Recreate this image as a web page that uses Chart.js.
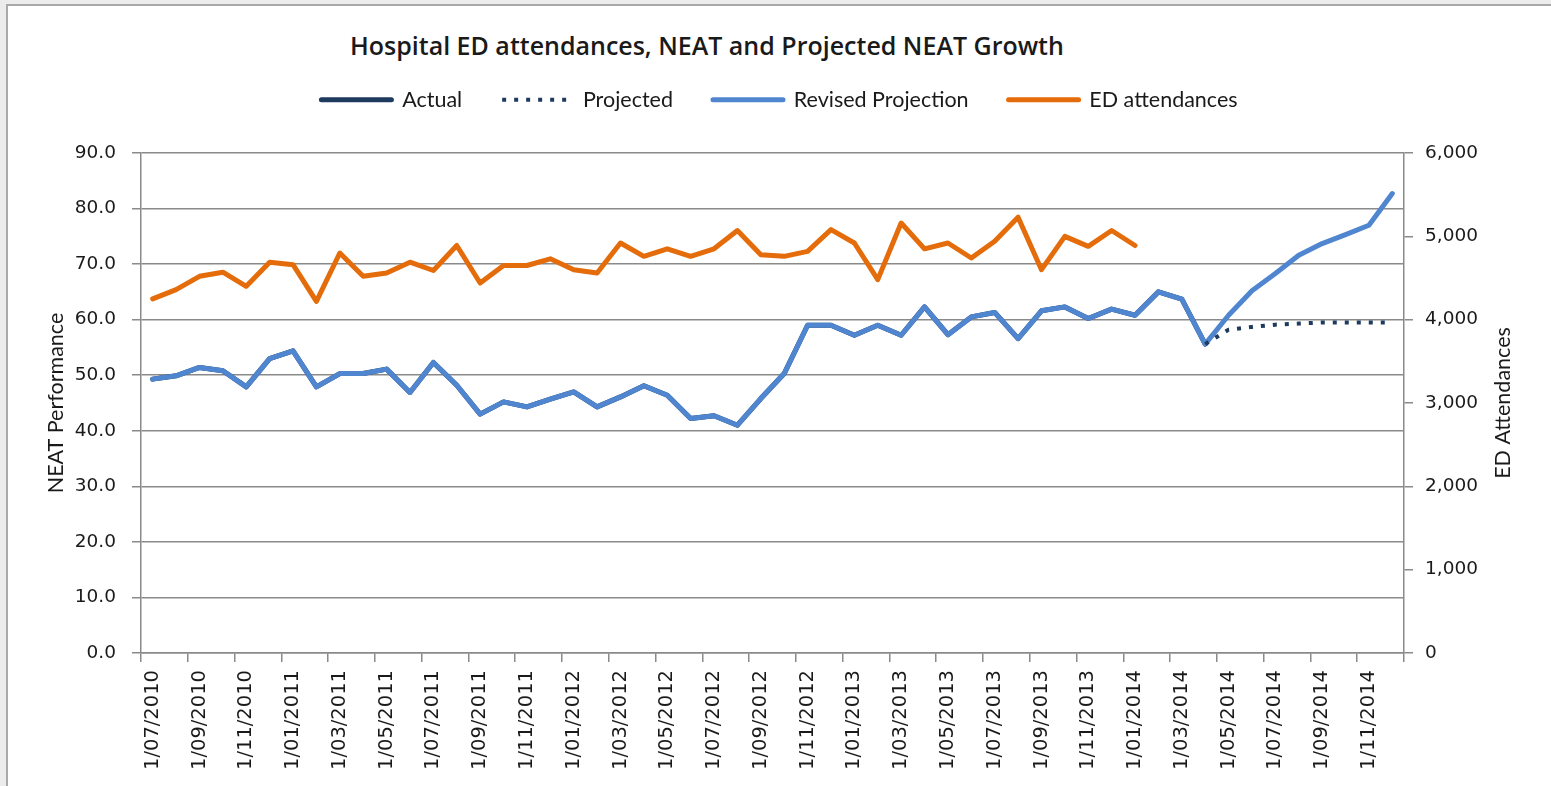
<!DOCTYPE html>
<html>
<head>
<meta charset="utf-8">
<title>Hospital ED attendances, NEAT and Projected NEAT Growth</title>
<script src="https://cdn.jsdelivr.net/npm/chart.js@4.4.1/dist/chart.umd.min.js"></script>
<style>
  html, body { margin: 0; padding: 0; background: #ececec; overflow: hidden; }
  #frame { position: absolute; left: 6px; top: 4px; width: 1600px; height: 900px; background: #fff; border: 2px solid #a9a9a9; }
  #chartTitle { position: absolute; left: 350px; top: 33px; font: 600 25px/25px "Open Sans", sans-serif; color: #1a1a1a; white-space: nowrap; }
  canvas { position: absolute; left: 0; top: 0; }
</style>
</head>
<body>
<div id="frame"></div>
<div id="chartTitle">Hospital ED attendances, NEAT and Projected NEAT Growth</div>
<canvas id="neatChart" width="1551" height="786"></canvas>
<script>
// monthly categories, Jul 2010 - Dec 2014
const months = [
    '1/07/2010', '1/08/2010', '1/09/2010', '1/10/2010', '1/11/2010', '1/12/2010',
    '1/01/2011', '1/02/2011', '1/03/2011', '1/04/2011', '1/05/2011', '1/06/2011',
    '1/07/2011', '1/08/2011', '1/09/2011', '1/10/2011', '1/11/2011', '1/12/2011',
    '1/01/2012', '1/02/2012', '1/03/2012', '1/04/2012', '1/05/2012', '1/06/2012',
    '1/07/2012', '1/08/2012', '1/09/2012', '1/10/2012', '1/11/2012', '1/12/2012',
    '1/01/2013', '1/02/2013', '1/03/2013', '1/04/2013', '1/05/2013', '1/06/2013',
    '1/07/2013', '1/08/2013', '1/09/2013', '1/10/2013', '1/11/2013', '1/12/2013',
    '1/01/2014', '1/02/2014', '1/03/2014', '1/04/2014', '1/05/2014', '1/06/2014',
    '1/07/2014', '1/08/2014', '1/09/2014', '1/10/2014', '1/11/2014', '1/12/2014'
];

// NEAT performance (%), actual Jul 2010 - Apr 2014
const actual = [
    49.3, 49.9, 51.4, 50.8, 47.9, 53.0, 54.4, 47.9, 50.3, 50.3,
    51.1, 46.9, 52.3, 48.2, 43.0, 45.2, 44.3, 45.7, 47.0, 44.3,
    46.1, 48.1, 46.4, 42.2, 42.7, 41.0, 45.8, 50.3, 59.0, 59.0,
    57.2, 59.0, 57.2, 62.3, 57.3, 60.5, 61.3, 56.6, 61.6, 62.3,
    60.2, 61.9, 60.8, 65.0, 63.7, 55.6
];

// projections start at Apr 2014 (index 45)
const projectionStart = 45;
const projected = [55.6, 58.2, 58.7, 59.1, 59.3, 59.5, 59.5, 59.5, 59.5];
const revisedFuture = [60.8, 65.2, 68.3, 71.6, 73.7, 75.3, 77.0, 82.7];

// ED attendances, Jul 2010 - Jan 2014
const edAttendances = [
    4250, 4360, 4520, 4570, 4400, 4690, 4660, 4220, 4800, 4520,
    4560, 4690, 4590, 4890, 4440, 4650, 4650, 4730, 4600, 4560,
    4920, 4760, 4850, 4760, 4850, 5070, 4780, 4760, 4820, 5080,
    4920, 4480, 5160, 4850, 4920, 4740, 4940, 5230, 4600, 5000,
    4880, 5070, 4890
];

const neatTicks = { min: 0, max: 90, step: 10 };
const edTicks = { min: 0, max: 6000, step: 1000 };

const toPoints = (values, start = 0) => values.map((v, i) => ({ x: start + i, y: v }));

const textColor = '#1a1a1a';
const gridColor = '#8a8a8a';
const tickFont = { family: '"DejaVu Sans"', size: 18.5 };
const labelFont = { family: 'Lato', size: 21.5 };

// every second month gets a tick mark, at the left edge of its slot
const xTickPositions = [];
for (let i = 0; i <= months.length; i += 2) xTickPositions.push(i - 0.5);

// right-hand axis title reads bottom-to-top like the left one
const rightTitle = {
    id: 'rightTitle',
    afterDraw(chart) {
        const s = chart.scales.y2;
        const ctx = chart.ctx;
        ctx.save();
        ctx.translate(s.right - labelFont.size * 0.6, (s.top + s.bottom) / 2);
        ctx.rotate(-Math.PI / 2);
        ctx.font = labelFont.size + 'px ' + labelFont.family;
        ctx.fillStyle = textColor;
        ctx.textAlign = 'center';
        ctx.textBaseline = 'middle';
        ctx.fillText('ED Attendances', 0, 0);
        ctx.restore();
    }
};

// legend samples drawn as short lines carrying each dataset's dash pattern
function legendLabels(chart) {
    const items = Chart.defaults.plugins.legend.labels.generateLabels(chart);
    return items.map(item => {
        const ds = chart.data.datasets[item.datasetIndex];
        item.lineDash = ds.borderDash || [];
        item.lineWidth = ds.borderWidth;
        item.strokeStyle = ds.borderColor;
        item.lineCap = ds.borderCapStyle || 'round';
        return item;
    });
}

function drawChart() {
    const ctx = document.getElementById('neatChart').getContext('2d');
    new Chart(ctx, {
        type: 'line',
        data: {
            datasets: [{
                label: 'Actual',
                data: toPoints(actual),
                borderColor: '#1F3A5F',
                backgroundColor: '#1F3A5F',
                borderWidth: 5,
                yAxisID: 'y',
                order: 4
            }, {
                label: 'Projected',
                data: toPoints(projected, projectionStart),
                borderColor: '#1F3A5F',
                backgroundColor: '#1F3A5F',
                borderWidth: 4,
                borderDash: [4, 8],
                borderCapStyle: 'butt',
                yAxisID: 'y',
                order: 1
            }, {
                label: 'Revised Projection',
                data: toPoints(actual.concat(revisedFuture)),
                borderColor: '#4F86CF',
                backgroundColor: '#4F86CF',
                borderWidth: 5,
                yAxisID: 'y',
                order: 2
            }, {
                label: 'ED attendances',
                data: toPoints(edAttendances),
                borderColor: '#E46C0A',
                backgroundColor: '#E46C0A',
                borderWidth: 5,
                yAxisID: 'y2',
                order: 3
            }]
        },
        options: {
            responsive: false,
            animation: false,
            color: textColor,
            elements: {
                point: { radius: 0, hoverRadius: 0 },
                line: { tension: 0, borderJoinStyle: 'round', borderCapStyle: 'round' }
            },
            layout: { padding: { left: 43, right: 35, top: 49, bottom: 10 } },
            plugins: {
                tooltip: { enabled: false },
                legend: {
                    position: 'top',
                    labels: {
                        usePointStyle: true,
                        pointStyle: 'line',
                        pointStyleWidth: 70,
                        padding: 40,
                        font: labelFont,
                        color: textColor,
                        generateLabels: legendLabels,
                        sort: (a, b) => a.datasetIndex - b.datasetIndex
                    }
                },
                // empty spacer between legend and plot area
                subtitle: {
                    display: true,
                    text: '',
                    weight: 500,
                    font: { size: 10, lineHeight: 1 },
                    padding: { top: 22.5, bottom: 0 }
                }
            },
            scales: {
                x: {
                    type: 'linear',
                    min: -0.5,
                    max: months.length - 0.5,
                    afterBuildTicks: (s) => { s.ticks = xTickPositions.map(v => ({ value: v })); },
                    afterFit: (s) => { s.height = 123; },
                    ticks: {
                        autoSkip: false,
                        minRotation: 90,
                        maxRotation: 90,
                        padding: 8,
                        font: { family: '"DejaVu Sans"', size: 19.5 },
                        color: textColor,
                        labelOffset: (c) => c.scale.getPixelForValue(0) - c.scale.getPixelForValue(-0.5),
                        callback: (value, index) => months[index * 2] || ''
                    },
                    grid: { drawOnChartArea: false, tickLength: 9, color: gridColor, lineWidth: 1.5 },
                    border: { color: gridColor, width: 1.5 }
                },
                y: {
                    position: 'left',
                    min: neatTicks.min,
                    max: neatTicks.max,
                    afterFit: (s) => { s.width = 98; },
                    ticks: {
                        stepSize: neatTicks.step,
                        padding: 16,
                        font: tickFont,
                        color: textColor,
                        callback: (v) => v.toFixed(1)
                    },
                    grid: { color: gridColor, lineWidth: 1.5, tickLength: 9 },
                    border: { color: gridColor, width: 1.5 },
                    title: { display: true, text: 'NEAT Performance', font: labelFont, color: textColor, padding: 0 }
                },
                y2: {
                    position: 'right',
                    min: edTicks.min,
                    max: edTicks.max,
                    afterFit: (s) => { s.width = 112; },
                    ticks: {
                        stepSize: edTicks.step,
                        padding: 12,
                        font: tickFont,
                        color: textColor,
                        callback: (v) => v.toLocaleString('en-US')
                    },
                    grid: { drawOnChartArea: false, color: gridColor, lineWidth: 1.5, tickLength: 9 },
                    border: { color: gridColor, width: 1.5 }
                }
            }
        },
        plugins: [rightTitle]
    });
}

Promise.all([
    document.fonts.load('21.5px Lato'),
    document.fonts.load('18.5px "DejaVu Sans"'),
    document.fonts.load('600 25px "Open Sans"')
]).then(drawChart, drawChart);
</script>
</body>
</html>
